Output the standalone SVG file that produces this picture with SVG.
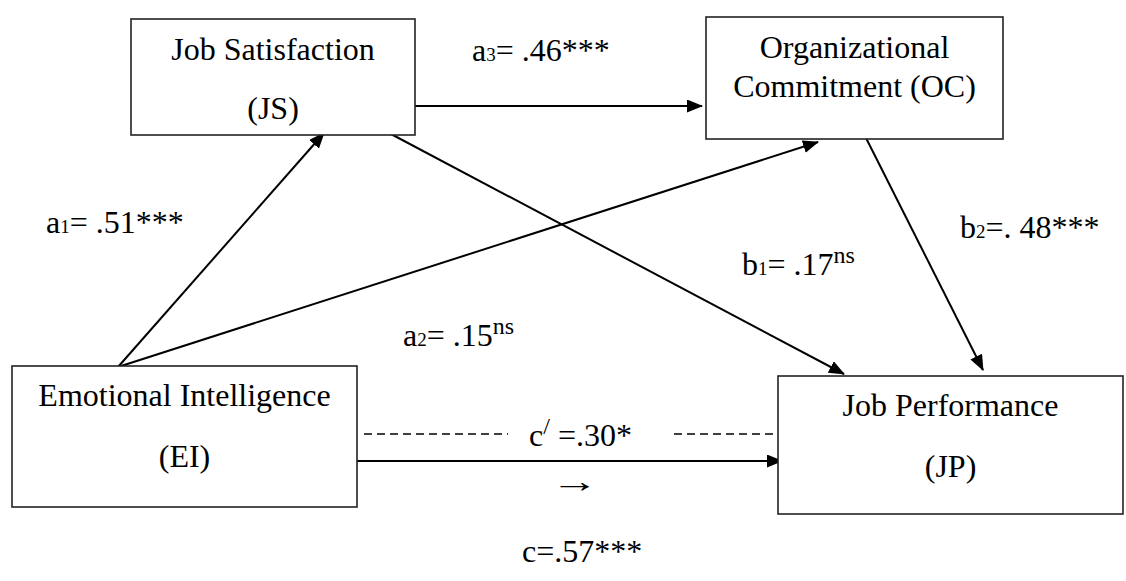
<svg xmlns="http://www.w3.org/2000/svg" width="1126" height="581" viewBox="0 0 1126 581">
<defs>
<marker id="ah" markerWidth="16" markerHeight="13" refX="15" refY="6.5" orient="auto" markerUnits="userSpaceOnUse">
<path d="M0,0 L16,6.5 L0,13 Z" fill="#000"/>
</marker>
<style>
.box{fill:#fff;stroke:#222;stroke-width:1.6}
.t{font-family:"Liberation Serif","Times New Roman",serif;font-size:32px;fill:#000}
.c{text-anchor:middle}
.ln{stroke:#000;stroke-width:2;fill:none}
.ar{marker-end:url(#ah)}
.dash{stroke:#000;stroke-width:1.5;stroke-dasharray:8,5}
.sub{font-size:19px}
.sup{font-size:24px}
</style>
</defs>
<rect width="1126" height="581" fill="#fff"/>
<g id="connectors">
<line class="ln ar" x1="118" y1="367" x2="324" y2="133"/>
<line class="ln ar" x1="118" y1="367" x2="818" y2="142"/>
<line class="ln ar" x1="412" y1="106" x2="702" y2="106"/>
<line class="ln ar" x1="391" y1="134" x2="844" y2="374"/>
<line class="ln ar" x1="863" y1="132" x2="983" y2="370"/>
<line class="ln ar" x1="355" y1="461" x2="782" y2="461"/>
<line class="dash" x1="364" y1="434" x2="508" y2="434"/>
<line class="dash" x1="674" y1="434" x2="778" y2="434"/>
</g>
<g id="node-js">
<rect class="box" x="131" y="19" width="284" height="116"/>
<text class="t c" x="273" y="60">Job Satisfaction</text>
<text class="t c" x="273" y="119">(JS)</text>
</g>
<g id="node-oc">
<rect class="box" x="706" y="17" width="297" height="122"/>
<text class="t c" x="854.5" y="58">Organizational</text>
<text class="t c" x="854.5" y="97">Commitment (OC)</text>
</g>
<g id="node-ei">
<rect class="box" x="12" y="366" width="345" height="141"/>
<text class="t c" x="184.5" y="406">Emotional Intelligence</text>
<text class="t c" x="184.5" y="467">(EI)</text>
</g>
<g id="node-jp">
<rect class="box" x="778" y="376" width="345" height="138"/>
<text class="t c" x="950.5" y="416">Job Performance</text>
<text class="t c" x="950.5" y="477">(JP)</text>
</g>
<g id="labels">
<text class="t" x="472" y="61">a<tspan class="sub">3</tspan>= .46***</text>
<text class="t" x="46" y="233">a<tspan class="sub">1</tspan>= .51***</text>
<text class="t" x="403" y="346">a<tspan class="sub">2</tspan>= .15<tspan class="sup" dy="-12">ns</tspan></text>
<text class="t" x="742" y="275">b<tspan class="sub">1</tspan>= .17<tspan class="sup" dy="-12">ns</tspan></text>
<text class="t" x="960" y="238">b<tspan class="sub">2</tspan>=. 48***</text>
<text class="t" x="529" y="446">c<tspan class="sup" dy="-12">/</tspan><tspan dy="12"> =.30*</tspan></text>
<text class="t" transform="translate(551,492) scale(1.5,1)" x="0" y="0">→</text>
<text class="t" x="522" y="562">c=.57***</text>
</g>
</svg>
